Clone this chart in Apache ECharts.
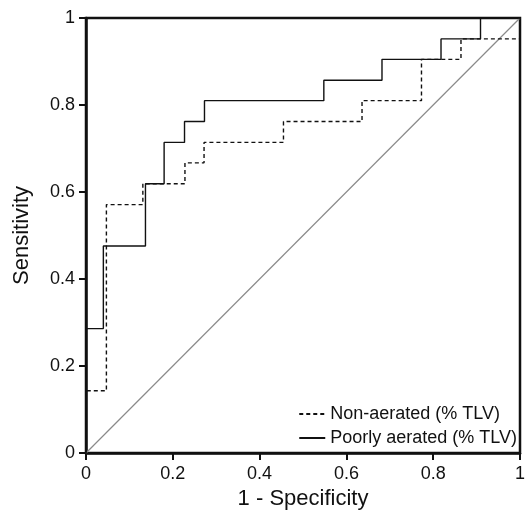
<!DOCTYPE html>
<html>
<head>
<meta charset="utf-8">
<script src="https://cdn.jsdelivr.net/npm/echarts@6/dist/echarts.min.js"></script>
<style>html,body{margin:0;padding:0;background:#fff;}#c{width:525px;height:511px;}</style>
</head>
<body>
<div id="c"></div>
<script>
// ROC curve vertices (1 - specificity, sensitivity)
const nonAeratedX = [0, 0, 0.047, 0.047, 0.131, 0.131, 0.228, 0.228, 0.272, 0.272, 0.455, 0.455, 0.636, 0.636, 0.773, 0.773, 0.864, 0.864, 1, 1];
const nonAeratedY = [0, 0.143, 0.143, 0.571, 0.571, 0.619, 0.619, 0.667, 0.667, 0.714, 0.714, 0.762, 0.762, 0.810, 0.810, 0.905, 0.905, 0.952, 0.952, 1];
const poorlyX = [0, 0, 0.040, 0.040, 0.137, 0.137, 0.180, 0.180, 0.227, 0.227, 0.273, 0.273, 0.548, 0.548, 0.682, 0.682, 0.818, 0.818, 0.909, 0.909, 1];
const poorlyY = [0, 0.286, 0.286, 0.476, 0.476, 0.619, 0.619, 0.714, 0.714, 0.762, 0.762, 0.810, 0.810, 0.857, 0.857, 0.905, 0.905, 0.952, 0.952, 1, 1];
const refX = [0, 1];
const refY = [0, 1];
const tickLabels = ['0', '0.2', '0.4', '0.6', '0.8', '1'];
const seriesNames = ['Non-aerated (% TLV)', 'Poorly aerated (% TLV)'];

const zip = (a, b) => a.map((v, i) => [v, b[i]]);
const font = 'Liberation Sans, Arial, sans-serif';
const fmt = v => tickLabels[Math.round(v * 5)];

const chart = echarts.init(document.getElementById('c'), null, {renderer: 'canvas'});
chart.setOption({
  animation: false,
  backgroundColor: '#fff',
  grid: {left: 86, top: 18, right: 5, bottom: 58, outerBoundsMode: 'none', containLabel: false,
         show: true, borderColor: '#111', borderWidth: 2.5, backgroundColor: 'transparent'},
  xAxis: {
    type: 'value', min: 0, max: 1, interval: 0.2,
    name: '1 - Specificity', nameLocation: 'middle', nameGap: 28,
    nameTextStyle: {fontFamily: font, fontSize: 22, color: '#111'},
    axisLine: {show: true, onZero: false, lineStyle: {color: '#111', width: 2.5}},
    axisTick: {show: true, inside: false, length: 7, lineStyle: {color: '#111', width: 2}},
    axisLabel: {fontFamily: font, fontSize: 18, color: '#111', margin: 12, formatter: fmt, hideOverlap: false},
    splitLine: {show: false}
  },
  yAxis: {
    type: 'value', min: 0, max: 1, interval: 0.2,
    name: 'Sensitivity', nameLocation: 'middle', nameGap: 53, nameRotate: 90,
    nameTextStyle: {fontFamily: font, fontSize: 22, color: '#111'},
    axisLine: {show: true, onZero: false, lineStyle: {color: '#111', width: 2.5}},
    axisTick: {show: true, inside: false, length: 7, lineStyle: {color: '#111', width: 2}},
    axisLabel: {fontFamily: font, fontSize: 18, color: '#111', margin: 11, formatter: fmt, hideOverlap: false},
    splitLine: {show: false}
  },
  legend: {
    orient: 'vertical', right: 3, bottom: 59,
    itemWidth: 26, itemHeight: 10, itemGap: 6,
    itemStyle: {opacity: 0},
    lineStyle: {opacity: 1},
    textStyle: {fontFamily: font, fontSize: 18, color: '#111'},
    data: seriesNames,
  },
  series: [
    {
      name: 'ref', type: 'line', data: zip(refX, refY), showSymbol: false, symbol: 'none',
      lineStyle: {color: '#8a8a8a', width: 1.2}, silent: true, z: 1
    },
    {
      name: seriesNames[0], type: 'line', data: zip(nonAeratedX, nonAeratedY), symbol: 'none',
      lineStyle: {color: '#111', width: 1.4, type: [4, 3]}, itemStyle: {color: '#111'}, clip: false, z: 3
    },
    {
      name: seriesNames[1], type: 'line', data: zip(poorlyX, poorlyY), symbol: 'none',
      lineStyle: {color: '#111', width: 1.4, type: 'solid'}, itemStyle: {color: '#111'}, clip: false, z: 3
    }
  ]
});
</script>
</body>
</html>
